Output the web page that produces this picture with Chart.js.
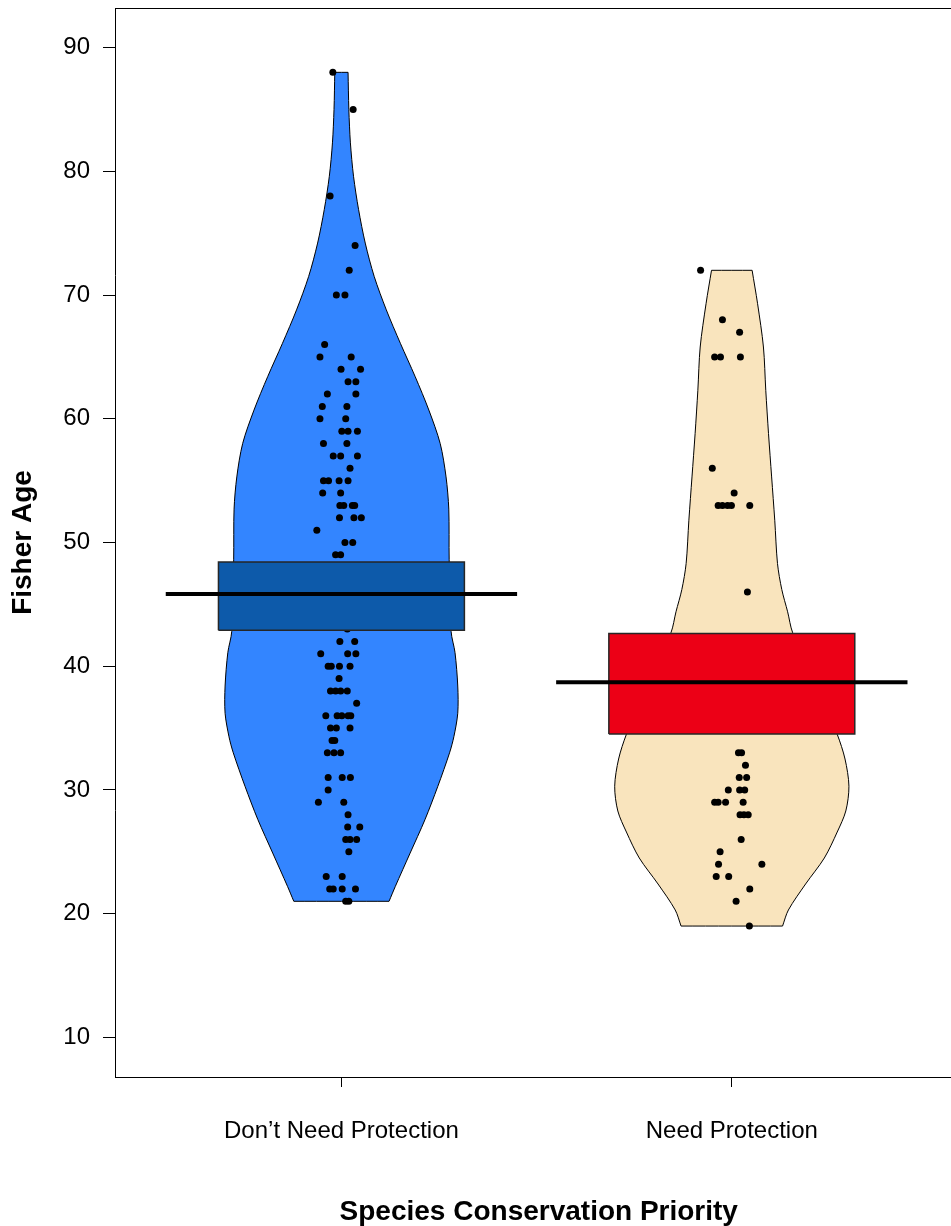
<!DOCTYPE html>
<html>
<head>
<meta charset="utf-8">
<script src="https://cdn.jsdelivr.net/npm/chart.js@4.4.1/dist/chart.umd.min.js"></script>
<style>
html,body{margin:0;padding:0;overflow:hidden;background:#fff}
#wrap{width:951px;height:1226px;position:relative;overflow:hidden}
</style>
</head>
<body>
<div id="wrap"><canvas id="c" width="966" height="1226"></canvas></div>
<script>
// ---------- data ----------
const categories = ["Don\u2019t Need Protection", "Need Protection"];
const yTickValues = [10, 20, 30, 40, 50, 60, 70, 80, 90];

// Group 1: Don't Need Protection (ages, jitter offsets of the raw points)
const ages1 = [88,85,78,74,72,70,70,66,65,65,64,64,63,63,62,62,61,61,60,60,59,59,59,58,58,57,57,57,56,55,55,55,55,54,54,53,53,53,53,52,52,52,51,50,50,49,49,
  43,42,42,41,41,41,40,40,40,40,39,38,38,38,38,37,36,36,36,36,36,35,35,35,34,34,33,33,33,31,31,31,30,29,29,28,27,27,26,26,26,25,23,23,22,22,22,22,21,21];
const jitter1 = [-0.022,0.030,-0.029,0.035,0.020,-0.013,0.009,-0.043,-0.055,0.025,-0.001,0.049,0.017,0.037,-0.036,0.037,-0.049,0.014,-0.055,0.011,0.001,0.017,0.041,-0.046,0.014,-0.021,-0.002,0.041,0.022,-0.046,-0.033,-0.006,0.017,-0.048,-0.002,-0.004,0.006,0.028,0.034,-0.005,0.032,0.051,-0.063,0.009,0.029,-0.015,-0.002,
  0.015,-0.004,0.034,-0.053,0.016,0.037,-0.034,-0.026,-0.005,0.022,-0.006,-0.028,-0.015,-0.002,0.015,0.039,-0.040,-0.011,0.001,0.017,0.024,-0.028,-0.013,0.022,-0.024,-0.017,-0.036,-0.019,-0.002,-0.034,0.002,0.023,-0.034,-0.059,0.006,0.017,0.016,0.047,0.011,0.022,0.039,0.019,-0.039,0.002,-0.030,-0.021,0.002,0.036,0.011,0.019];

// Group 2: Need Protection
const ages2 = [72,68,67,65,65,65,56,54,53,53,53,53,53,46,33,33,32,31,31,30,30,30,29,29,29,29,28,28,28,26,25,24,24,23,23,22,21,19];
const jitter2 = [-0.080,-0.024,0.020,-0.044,-0.029,0.022,-0.050,0.006,-0.035,-0.024,-0.011,-0.001,0.046,0.040,0.017,0.025,0.035,0.019,0.038,-0.009,0.020,0.033,-0.044,-0.035,-0.016,0.029,0.021,0.031,0.042,0.024,-0.030,-0.034,0.077,-0.040,-0.008,0.046,0.011,0.045];

// Means and inference bands
const means = [45.84, 38.70];
const bandLow = [42.90, 34.53];
const bandHigh = [48.43, 42.64];

// Bean (density) outlines: age and half width (x-axis units)
const densAges1  = [88, 85, 82.3, 79.6, 76.9, 74.2, 71.5, 68.8, 66.1, 63.4, 60.7, 58.0, 55.3, 52.7, 48.6, 42.8, 41.1, 38.4, 36.2, 34.3, 33.0, 30.3, 27.6, 24.9, 22.2, 21];
const densWidth1 = [0.017,0.019,0.023,0.031,0.044,0.061,0.084,0.115,0.151,0.189,0.224,0.253,0.268,0.275,0.276,0.281,0.291,0.298,0.298,0.288,0.277,0.247,0.214,0.176,0.138,0.122];
const densAges2  = [72, 69.3, 65.8, 62.3, 58.8, 55.3, 51.8, 48.3, 46.2, 44.4, 42.7, 38.5, 34.5, 32.5, 30.3, 28.3, 26.6, 24.5, 22.4, 20.3, 19];
const densWidth2 = [0.052,0.066,0.081,0.087,0.094,0.102,0.110,0.117,0.128,0.143,0.156,0.217,0.270,0.290,0.300,0.292,0.270,0.237,0.189,0.145,0.130];

// ---------- styling ----------
const beanFill = ['#3385FF', '#F9E4BD'];
const bandFill = ['#0D5AAA', '#EC0016'];
const BAND_HALF = 0.315, LINE_HALF = 0.45;
const FONT = "'Liberation Sans', Arial, Helvetica, sans-serif";

function beanPath(c, ages, widths) {
  const n = ages.length;
  const R = i => ({x: c + widths[i], y: ages[i]});
  const L = i => ({x: c - widths[i], y: ages[i]});
  const pts = [L(n-1), R(n-1), R(n-1)];
  for (let i = n - 2; i >= 1; i--) pts.push(R(i));
  pts.push(R(0), R(0), L(0), L(0));
  for (let i = 1; i <= n - 2; i++) pts.push(L(i));
  pts.push(L(n-1), L(n-1));
  return pts;
}
function bandPath(c, lo, hi) {
  return [{x:c-BAND_HALF,y:lo},{x:c+BAND_HALF,y:lo},{x:c+BAND_HALF,y:hi},{x:c-BAND_HALF,y:hi},{x:c-BAND_HALF,y:lo}];
}
const common = {type:'line', xAxisID:'x', yAxisID:'y', pointRadius:0, pointHoverRadius:0};
const datasets = [];
const groups = [
  {ages: ages1, jit: jitter1, dA: densAges1, dW: densWidth1},
  {ages: ages2, jit: jitter2, dA: densAges2, dW: densWidth2}
];
groups.forEach((g, k) => {
  const c = k + 1;
  datasets.push(Object.assign({}, common, {
    data: beanPath(c, g.dA, g.dW), fill: 'shape', backgroundColor: beanFill[k],
    borderColor: '#000', borderWidth: 1, tension: 0.3, order: 4
  }));
  datasets.push(Object.assign({}, common, {
    data: g.ages.map((a, i) => ({x: c + g.jit[i], y: a})), showLine: false,
    pointRadius: 3.5, pointHoverRadius: 3.5, pointBackgroundColor: '#000', pointBorderWidth: 0, order: 3
  }));
  datasets.push(Object.assign({}, common, {
    data: bandPath(c, bandLow[k], bandHigh[k]), fill: 'shape', backgroundColor: bandFill[k],
    borderColor: '#262626', borderWidth: 1.5, tension: 0, order: 2
  }));
  datasets.push(Object.assign({}, common, {
    data: [{x: c - LINE_HALF, y: means[k]}, {x: c + LINE_HALF, y: means[k]}], fill: false,
    borderColor: '#000', borderWidth: 4, borderCapStyle: 'butt', tension: 0, order: 1
  }));
});

const X_MIN = 0.42, X_MAX = 0.42 + 851 / 392;
function noPad(s) { s.paddingTop = 0; s.paddingBottom = 0; s.paddingLeft = 0; s.paddingRight = 0; }
new Chart(document.getElementById('c'), {
  data: {datasets},
  options: {
    responsive: false, animation: false,
    layout: {padding: {top: 8, left: 0, right: 0, bottom: 0}},
    plugins: {legend: {display: false}, tooltip: {enabled: false}},
    scales: {
      x: {
        type: 'linear', position: 'bottom', min: X_MIN, max: X_MAX,
        afterBuildTicks: s => { s.ticks = categories.map((_, i) => ({value: i + 1})); },
        afterFit: s => { s.height = 149; noPad(s); },
        ticks: {autoSkip: false, maxRotation: 0, padding: 30, color: '#000',
          font: {family: FONT, size: 24}, callback: (v, i) => categories[i]},
        grid: {drawOnChartArea: false, drawTicks: true, tickLength: 10, tickColor: '#000', tickWidth: 1},
        border: {display: true, color: '#000', width: 1},
        title: {display: true, text: 'Species Conservation Priority', color: '#000',
          font: {family: FONT, size: 28, weight: 'bold', lineHeight: 1.0}, padding: {top: 0, bottom: 0}}
      },
      xTop: {
        type: 'linear', position: 'top', min: X_MIN, max: X_MAX,
        afterFit: s => { s.height = 0; noPad(s); },
        ticks: {display: false},
        grid: {drawOnChartArea: false, drawTicks: false},
        border: {display: true, color: '#000', width: 1}
      },
      y: {
        type: 'linear', position: 'left', min: 6.8, max: 93.2,
        afterBuildTicks: s => { s.ticks = yTickValues.map(v => ({value: v})); },
        afterFit: s => { s.width = 115; noPad(s); },
        ticks: {padding: 13, color: '#000', font: {family: FONT, size: 24}, callback: v => String(v)},
        grid: {drawOnChartArea: false, drawTicks: true, tickLength: 12, tickColor: '#000', tickWidth: 1},
        border: {display: true, color: '#000', width: 1},
        title: {display: true, text: 'Fisher Age', color: '#000',
          font: {family: FONT, size: 28, weight: 'bold'}, padding: {top: 6, bottom: 0}}
      }
    }
  }
});
</script>
</body>
</html>
